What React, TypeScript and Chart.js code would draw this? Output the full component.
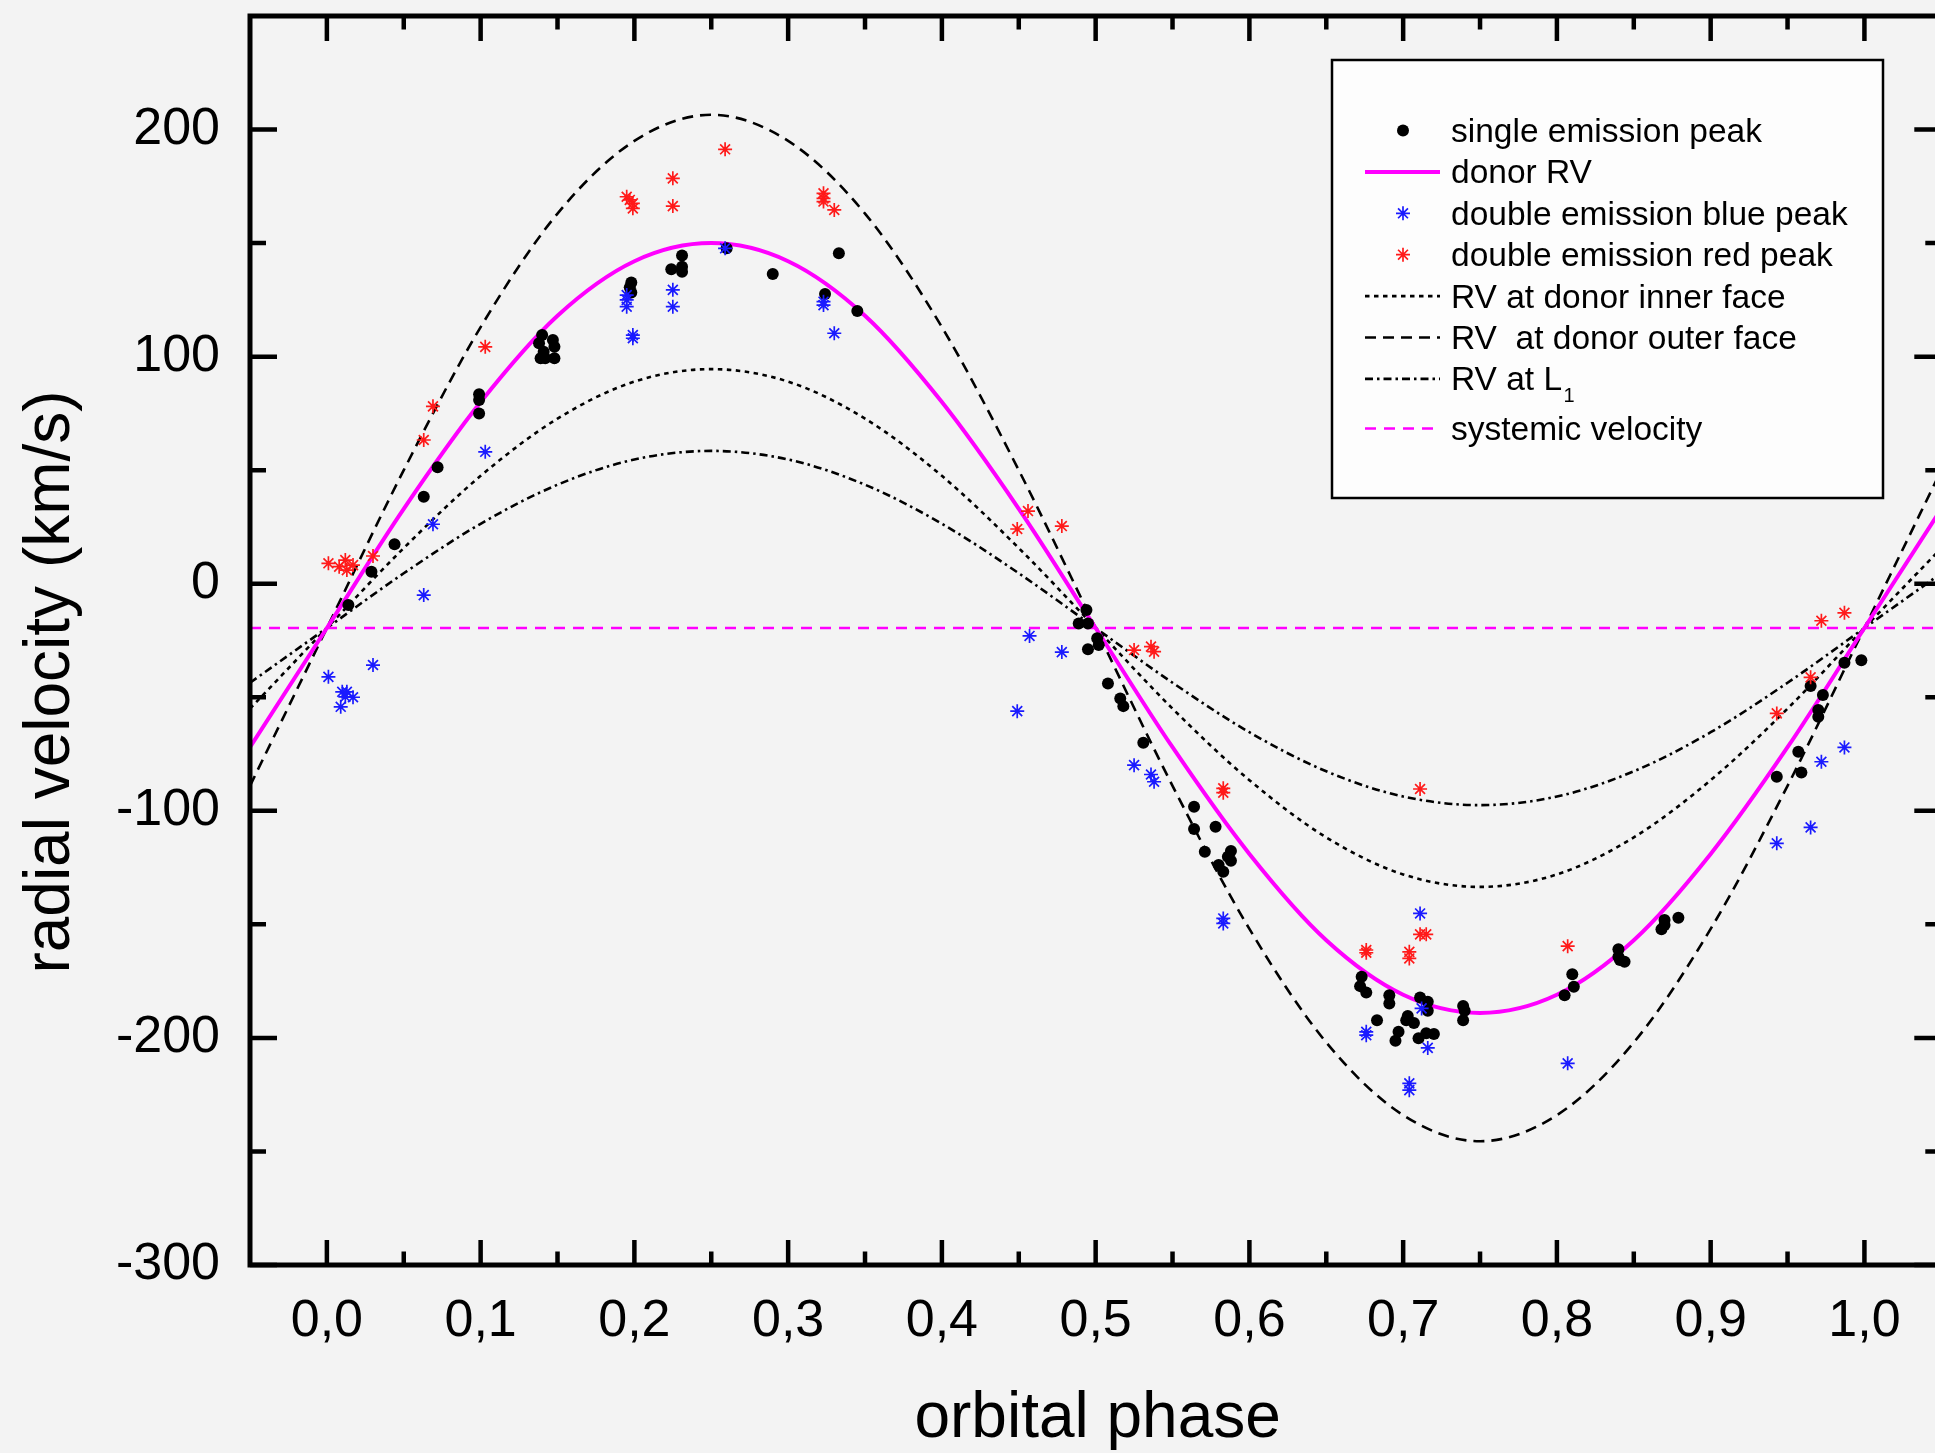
import React, { useEffect, useRef } from 'react';
import { Chart, registerables } from 'chart.js';

Chart.register(...registerables);

const FONT = '"Liberation Sans", Arial, Helvetica, sans-serif';

// ---- axes ----
const xMin = -0.05;
const xMax = 1.05;
const yMin = -300;
const yMax = 250;
const xTickValues = [0, 0.1, 0.2, 0.3, 0.4, 0.5, 0.6, 0.7, 0.8, 0.9, 1.0];
const xMinorValues = [0.05, 0.15, 0.25, 0.35, 0.45, 0.55, 0.65, 0.75, 0.85, 0.95];
const yTickValues = [-300, -200, -100, 0, 100, 200];
const yMinorValues = [-250, -150, -50, 50, 150];
const xTitle = 'orbital phase';
const yTitle = 'radial velocity (km/s)';

// ---- single emission peak (black dots) ----
const singlePhase = [
  0.029, 0.044, 0.063, 0.072, 0.099, 0.099, 0.099, 0.140, 0.138, 0.147, 0.148, 0.141, 0.139, 0.142, 0.148,
  0.198, 0.197, 0.198, 0.224, 0.231, 0.231, 0.231, 0.260, 0.290, 0.324, 0.333, 0.345, 0.014,
  0.494, 0.489, 0.495, 0.501, 0.502, 0.495, 0.508, 0.516, 0.518, 0.531, 0.564, 0.578, 0.564, 0.571,
  0.588, 0.586, 0.588, 0.580, 0.583,
  0.673, 0.672, 0.676, 0.691, 0.691, 0.683, 0.703, 0.702, 0.707, 0.697, 0.695, 0.711, 0.716, 0.716,
  0.710, 0.715, 0.720, 0.739, 0.740, 0.739, 0.810, 0.811, 0.805, 0.840, 0.840, 0.841, 0.844,
  0.870, 0.870, 0.868, 0.879, 0.943, 0.957, 0.959, 0.965, 0.973, 0.970, 0.970, 0.987, 0.998,
];
const singleRV = [
  5.3, 17.4, 38.3, 51.3, 83.4, 80.9, 75.0, 109.5, 105.9, 107.3, 104.4, 102.2, 99.3, 99.3, 99.3,
  132.6, 130.5, 128.2, 138.5, 144.5, 139.6, 137.4, 147.7, 136.4, 127.6, 145.5, 120.1, -9.4,
  -11.6, -17.5, -17.5, -24.0, -27.0, -28.9, -43.9, -50.5, -53.9, -70.0, -98.2, -107.0, -108.0, -118.0,
  -117.7, -120.2, -122.0, -123.9, -126.8,
  -173.1, -177.2, -180.0, -181.2, -184.8, -192.2, -190.4, -192.2, -193.4, -197.3, -201.3, -182.2, -184.1, -188.0,
  -200.2, -198.0, -198.3, -186.0, -188.0, -192.2, -172.0, -177.5, -181.2, -161.0, -164.3, -165.7, -166.5,
  -148.1, -150.3, -152.2, -147.1, -85.0, -74.0, -83.1, -45.0, -49.0, -55.6, -58.6, -34.8, -33.7,
];

// ---- double emission blue peak ----
const bluePhase = [
  0.259, 0.225, 0.225, 0.195, 0.195, 0.195, 0.199, 0.199, 0.103, 0.069, 0.323, 0.323, 0.330,
  0.063, 0.030, 0.001, 0.010, 0.013, 0.012, 0.017, 0.009,
  0.457, 0.478, 0.449, 0.525, 0.536, 0.538, 0.583, 0.583,
  0.987, 0.972, 0.965, 0.943, 0.711, 0.712, 0.676, 0.676, 0.716, 0.807, 0.704, 0.704,
];
const blueRV = [
  147.7, 129.4, 122.0, 127.1, 125.0, 122.0, 109.5, 108.1, 58.1, 26.2, 124.2, 122.7, 110.3,
  -5.0, -35.8, -41.0, -47.6, -47.6, -49.8, -50.0, -54.2,
  -23.0, -30.1, -56.1, -79.9, -84.0, -87.2, -147.4, -149.6,
  -72.1, -78.4, -107.3, -114.3, -145.2, -187.0, -197.3, -198.8, -204.4, -211.2, -220.0, -223.0,
];

// ---- double emission red peak ----
const redPhase = [
  0.259, 0.225, 0.195, 0.197, 0.199, 0.199, 0.225, 0.103, 0.069, 0.063,
  0.030, 0.001, 0.012, 0.008, 0.013, 0.017,
  0.323, 0.323, 0.323, 0.330, 0.456, 0.449, 0.478,
  0.525, 0.536, 0.538, 0.583, 0.583,
  0.972, 0.987, 0.965, 0.943, 0.711, 0.711, 0.715, 0.676, 0.676, 0.704, 0.704, 0.807,
];
const redRV = [
  191.3, 178.5, 170.4, 169.0, 167.5, 165.3, 166.3, 104.3, 78.1, 63.3,
  12.2, 9.0, 10.4, 7.5, 6.0, 8.2,
  171.9, 169.7, 168.3, 164.6, 32.0, 24.1, 25.4,
  -29.2, -27.7, -29.9, -90.1, -92.0,
  -16.3, -12.8, -41.2, -57.1, -90.4, -154.4, -154.4, -161.3, -162.5, -162.1, -165.0, -159.6,
];

// ---- model curves (every 0.05 in phase) ----
const curvePhase = [
  -0.05, 0, 0.05, 0.1, 0.15, 0.2, 0.25, 0.3, 0.35, 0.4, 0.45, 0.5,
  0.55, 0.6, 0.65, 0.7, 0.75, 0.8, 0.85, 0.9, 0.95, 1.0, 1.05,
];
const donorRV = [
  -72, -19.5, 33, 80, 118, 142, 150, 142, 118, 80, 33, -19.5,
  -72, -119, -157, -181, -189, -181, -157, -119, -72, -19.5, 33,
];
const innerFaceRV = [
  -55, -19.5, 15.7, 47.5, 72.7, 89, 94.5, 89, 72.7, 47.5, 15.7, -19.5,
  -55, -86.5, -111.7, -128, -133.5, -128, -111.7, -86.5, -55, -19.5, 15.7,
];
const outerFaceRV = [
  -89, -19.5, 50, 113, 163, 195, 206.5, 195, 163, 113, 50, -19.5,
  -89, -152, -202, -234, -245.5, -234, -202, -152, -89, -19.5, 50,
];
const l1RV = [
  -43.6, -19.5, 4.6, 26.4, 43.6, 54.7, 58.5, 54.7, 43.6, 26.4, 4.6, -19.5,
  -43.6, -65.4, -82.6, -93.7, -97.5, -93.7, -82.6, -65.4, -43.6, -19.5, 4.6,
];
const systemicPhase = [-0.05, 1.05];
const systemicRV = [-19.5, -19.5];

const legendOrder = [
  'single emission peak',
  'donor RV',
  'double emission blue peak',
  'double emission red peak',
  'RV at donor inner face',
  'RV  at donor outer face',
  'RV at L1',
  'systemic velocity',
];

function pts(xs: number[], ys: number[]) {
  return xs.map((x, i) => ({ x, y: ys[i] }));
}

function drawStar(ctx: CanvasRenderingContext2D, x: number, y: number, r: number) {
  ctx.beginPath();
  for (let k = 0; k < 4; k++) {
    const a = (k * Math.PI) / 4;
    const dx = Math.cos(a) * r;
    const dy = Math.sin(a) * r;
    ctx.moveTo(x - dx, y - dy);
    ctx.lineTo(x + dx, y + dy);
  }
  ctx.stroke();
}

const decorPlugin = {
  id: 'decor',
  beforeDraw(chart: any) {
    const { ctx, width, height } = chart;
    ctx.save();
    ctx.fillStyle = '#f3f3f3';
    ctx.fillRect(0, 0, width, height);
    ctx.restore();
  },
  afterDraw(chart: any) {
    const { ctx, chartArea: a } = chart;
    const xs = chart.scales.x;
    const ys = chart.scales.y;
    ctx.save();
    ctx.strokeStyle = '#000';
    ctx.lineCap = 'butt';

    // inward ticks
    ctx.lineWidth = 4.5;
    ctx.beginPath();
    xTickValues.forEach((v) => {
      const p = xs.getPixelForValue(v);
      ctx.moveTo(p, a.bottom); ctx.lineTo(p, a.bottom - 25);
      ctx.moveTo(p, a.top); ctx.lineTo(p, a.top + 25);
    });
    xMinorValues.forEach((v) => {
      const p = xs.getPixelForValue(v);
      ctx.moveTo(p, a.bottom); ctx.lineTo(p, a.bottom - 13.5);
      ctx.moveTo(p, a.top); ctx.lineTo(p, a.top + 13.5);
    });
    yTickValues.forEach((v) => {
      const p = ys.getPixelForValue(v);
      ctx.moveTo(a.left, p); ctx.lineTo(a.left + 27, p);
      ctx.moveTo(a.right, p); ctx.lineTo(a.right - 27, p);
    });
    yMinorValues.forEach((v) => {
      const p = ys.getPixelForValue(v);
      ctx.moveTo(a.left, p); ctx.lineTo(a.left + 16, p);
      ctx.moveTo(a.right, p); ctx.lineTo(a.right - 16, p);
    });
    ctx.stroke();

    // frame
    ctx.lineWidth = 5;
    ctx.strokeRect(a.left, a.top, a.right - a.left, a.bottom - a.top);

    // axis titles
    ctx.fillStyle = '#000';
    ctx.font = `64px ${FONT}`;
    ctx.textAlign = 'center';
    ctx.textBaseline = 'alphabetic';
    ctx.fillText(xTitle, (a.left + a.right) / 2 + 2, 1437);
    ctx.save();
    ctx.translate(69, 682);
    ctx.rotate(-Math.PI / 2);
    ctx.fillText(yTitle, 0, 0);
    ctx.restore();

    // legend
    const box = { left: 1332, top: 60, right: 1883, bottom: 498 };
    ctx.fillStyle = '#fdfdfd';
    ctx.fillRect(box.left, box.top, box.right - box.left, box.bottom - box.top);
    ctx.lineWidth = 2.5;
    ctx.strokeStyle = '#000';
    ctx.strokeRect(box.left, box.top, box.right - box.left, box.bottom - box.top);

    const datasets = chart.data.datasets;
    legendOrder.forEach((label, i) => {
      const ds = datasets.find((d: any) => d.label === label);
      if (!ds) return;
      const baseline = i < 7 ? 142 + i * 41.4 : 440;
      const sy = baseline - 11.5;
      if (ds.showLine) {
        ctx.save();
        ctx.strokeStyle = ds.borderColor;
        ctx.lineWidth = ds.borderWidth;
        ctx.setLineDash(ds.borderDash || []);
        ctx.beginPath();
        ctx.moveTo(1365, sy);
        ctx.lineTo(1440, sy);
        ctx.stroke();
        ctx.restore();
      } else if (ds.pointStyle === 'star') {
        ctx.save();
        ctx.strokeStyle = ds.pointBorderColor;
        ctx.lineWidth = ds.pointBorderWidth;
        drawStar(ctx, 1403, sy, ds.pointRadius);
        ctx.restore();
      } else {
        ctx.save();
        ctx.fillStyle = ds.pointBackgroundColor;
        ctx.beginPath();
        ctx.arc(1403, sy, ds.pointRadius, 0, Math.PI * 2);
        ctx.fill();
        ctx.restore();
      }
      ctx.fillStyle = '#000';
      ctx.textAlign = 'left';
      ctx.textBaseline = 'alphabetic';
      ctx.font = `33.5px ${FONT}`;
      if (label === 'RV at L1') {
        const main = 'RV at L';
        ctx.fillText(main, 1451, baseline);
        const w = ctx.measureText(main).width;
        ctx.font = `20px ${FONT}`;
        ctx.fillText('1', 1451 + w + 1.5, baseline + 11.5);
      } else {
        ctx.fillText(label, 1451, baseline);
      }
    });
    ctx.restore();
  },
};

export default function App() {
  const ref = useRef<HTMLCanvasElement>(null);

  useEffect(() => {
    const canvas = ref.current;
    if (!canvas) return;

    const curve = (label: string, ys: number[], color: string, width: number, dash: number[], order: number, xs = curvePhase) => ({
      type: 'line' as const,
      label,
      data: pts(xs, ys),
      showLine: true,
      borderColor: color,
      backgroundColor: color,
      borderWidth: width,
      borderDash: dash,
      pointRadius: 0,
      fill: false,
      cubicInterpolationMode: 'monotone' as const,
      order,
    });

    const chart = new Chart(canvas, {
      type: 'scatter',
      data: {
        datasets: [
          {
            label: 'double emission red peak',
            data: pts(redPhase, redRV),
            showLine: false,
            pointStyle: 'star',
            pointRadius: 7,
            pointBorderColor: '#ff1a1a',
            pointBackgroundColor: '#ff1a1a',
            pointBorderWidth: 1.7,
            order: 1,
          } as any,
          {
            label: 'double emission blue peak',
            data: pts(bluePhase, blueRV),
            showLine: false,
            pointStyle: 'star',
            pointRadius: 7,
            pointBorderColor: '#1a1aff',
            pointBackgroundColor: '#1a1aff',
            pointBorderWidth: 1.7,
            order: 2,
          } as any,
          {
            label: 'single emission peak',
            data: pts(singlePhase, singleRV),
            showLine: false,
            pointStyle: 'circle',
            pointRadius: 6,
            pointBackgroundColor: '#000000',
            pointBorderColor: '#000000',
            pointBorderWidth: 0,
            order: 3,
          } as any,
          curve('donor RV', donorRV, '#ff00ff', 4, [], 4),
          curve('systemic velocity', systemicRV, '#ff00ff', 2.6, [11, 8], 5, systemicPhase),
          curve('RV  at donor outer face', outerFaceRV, '#000000', 2.6, [11, 7], 6),
          curve('RV at donor inner face', innerFaceRV, '#000000', 2.6, [4.5, 4.5], 7),
          curve('RV at L1', l1RV, '#000000', 2.6, [8, 4, 2.5, 4], 8),
        ] as any,
      },
      options: {
        responsive: false,
        animation: false,
        devicePixelRatio: 1,
        events: [],
        layout: { padding: { top: 16, right: 6, left: 0, bottom: 0 } },
        plugins: {
          legend: { display: false },
          title: { display: false },
          tooltip: { enabled: false },
        },
        scales: {
          x: {
            type: 'linear',
            position: 'bottom',
            min: xMin,
            max: xMax,
            grid: { display: false, drawTicks: false },
            border: { display: false },
            title: { display: false },
            afterBuildTicks: (s: any) => {
              s.ticks = xTickValues.map((v) => ({ value: v }));
            },
            afterFit: (s: any) => {
              s.height = 188;
              s.paddingLeft = 0;
              s.paddingRight = 0;
            },
            ticks: {
              color: '#000',
              font: { family: FONT, size: 52 },
              padding: 25,
              autoSkip: false,
              maxRotation: 0,
              minRotation: 0,
              callback: (v: any) => Number(v).toFixed(1).replace('.', ','),
            },
          },
          y: {
            type: 'linear',
            position: 'left',
            min: yMin,
            max: yMax,
            grid: { display: false, drawTicks: false },
            border: { display: false },
            title: { display: false },
            afterBuildTicks: (s: any) => {
              s.ticks = yTickValues.map((v) => ({ value: v }));
            },
            afterFit: (s: any) => {
              s.width = 250;
              s.paddingTop = 0;
              s.paddingBottom = 0;
            },
            ticks: {
              color: '#000',
              font: { family: FONT, size: 52 },
              padding: 30,
              autoSkip: false,
              callback: (v: any) => String(v),
            },
          },
        },
      } as any,
      plugins: [decorPlugin],
    });

    return () => chart.destroy();
  }, []);

  return (
    <div
      style={{
        position: 'absolute',
        left: 0,
        top: 0,
        width: 1935,
        height: 1453,
        overflow: 'hidden',
        background: '#f3f3f3',
      }}
    >
      <canvas ref={ref} width={1950} height={1453} style={{ display: 'block', width: 1950, height: 1453 }} />
    </div>
  );
}
